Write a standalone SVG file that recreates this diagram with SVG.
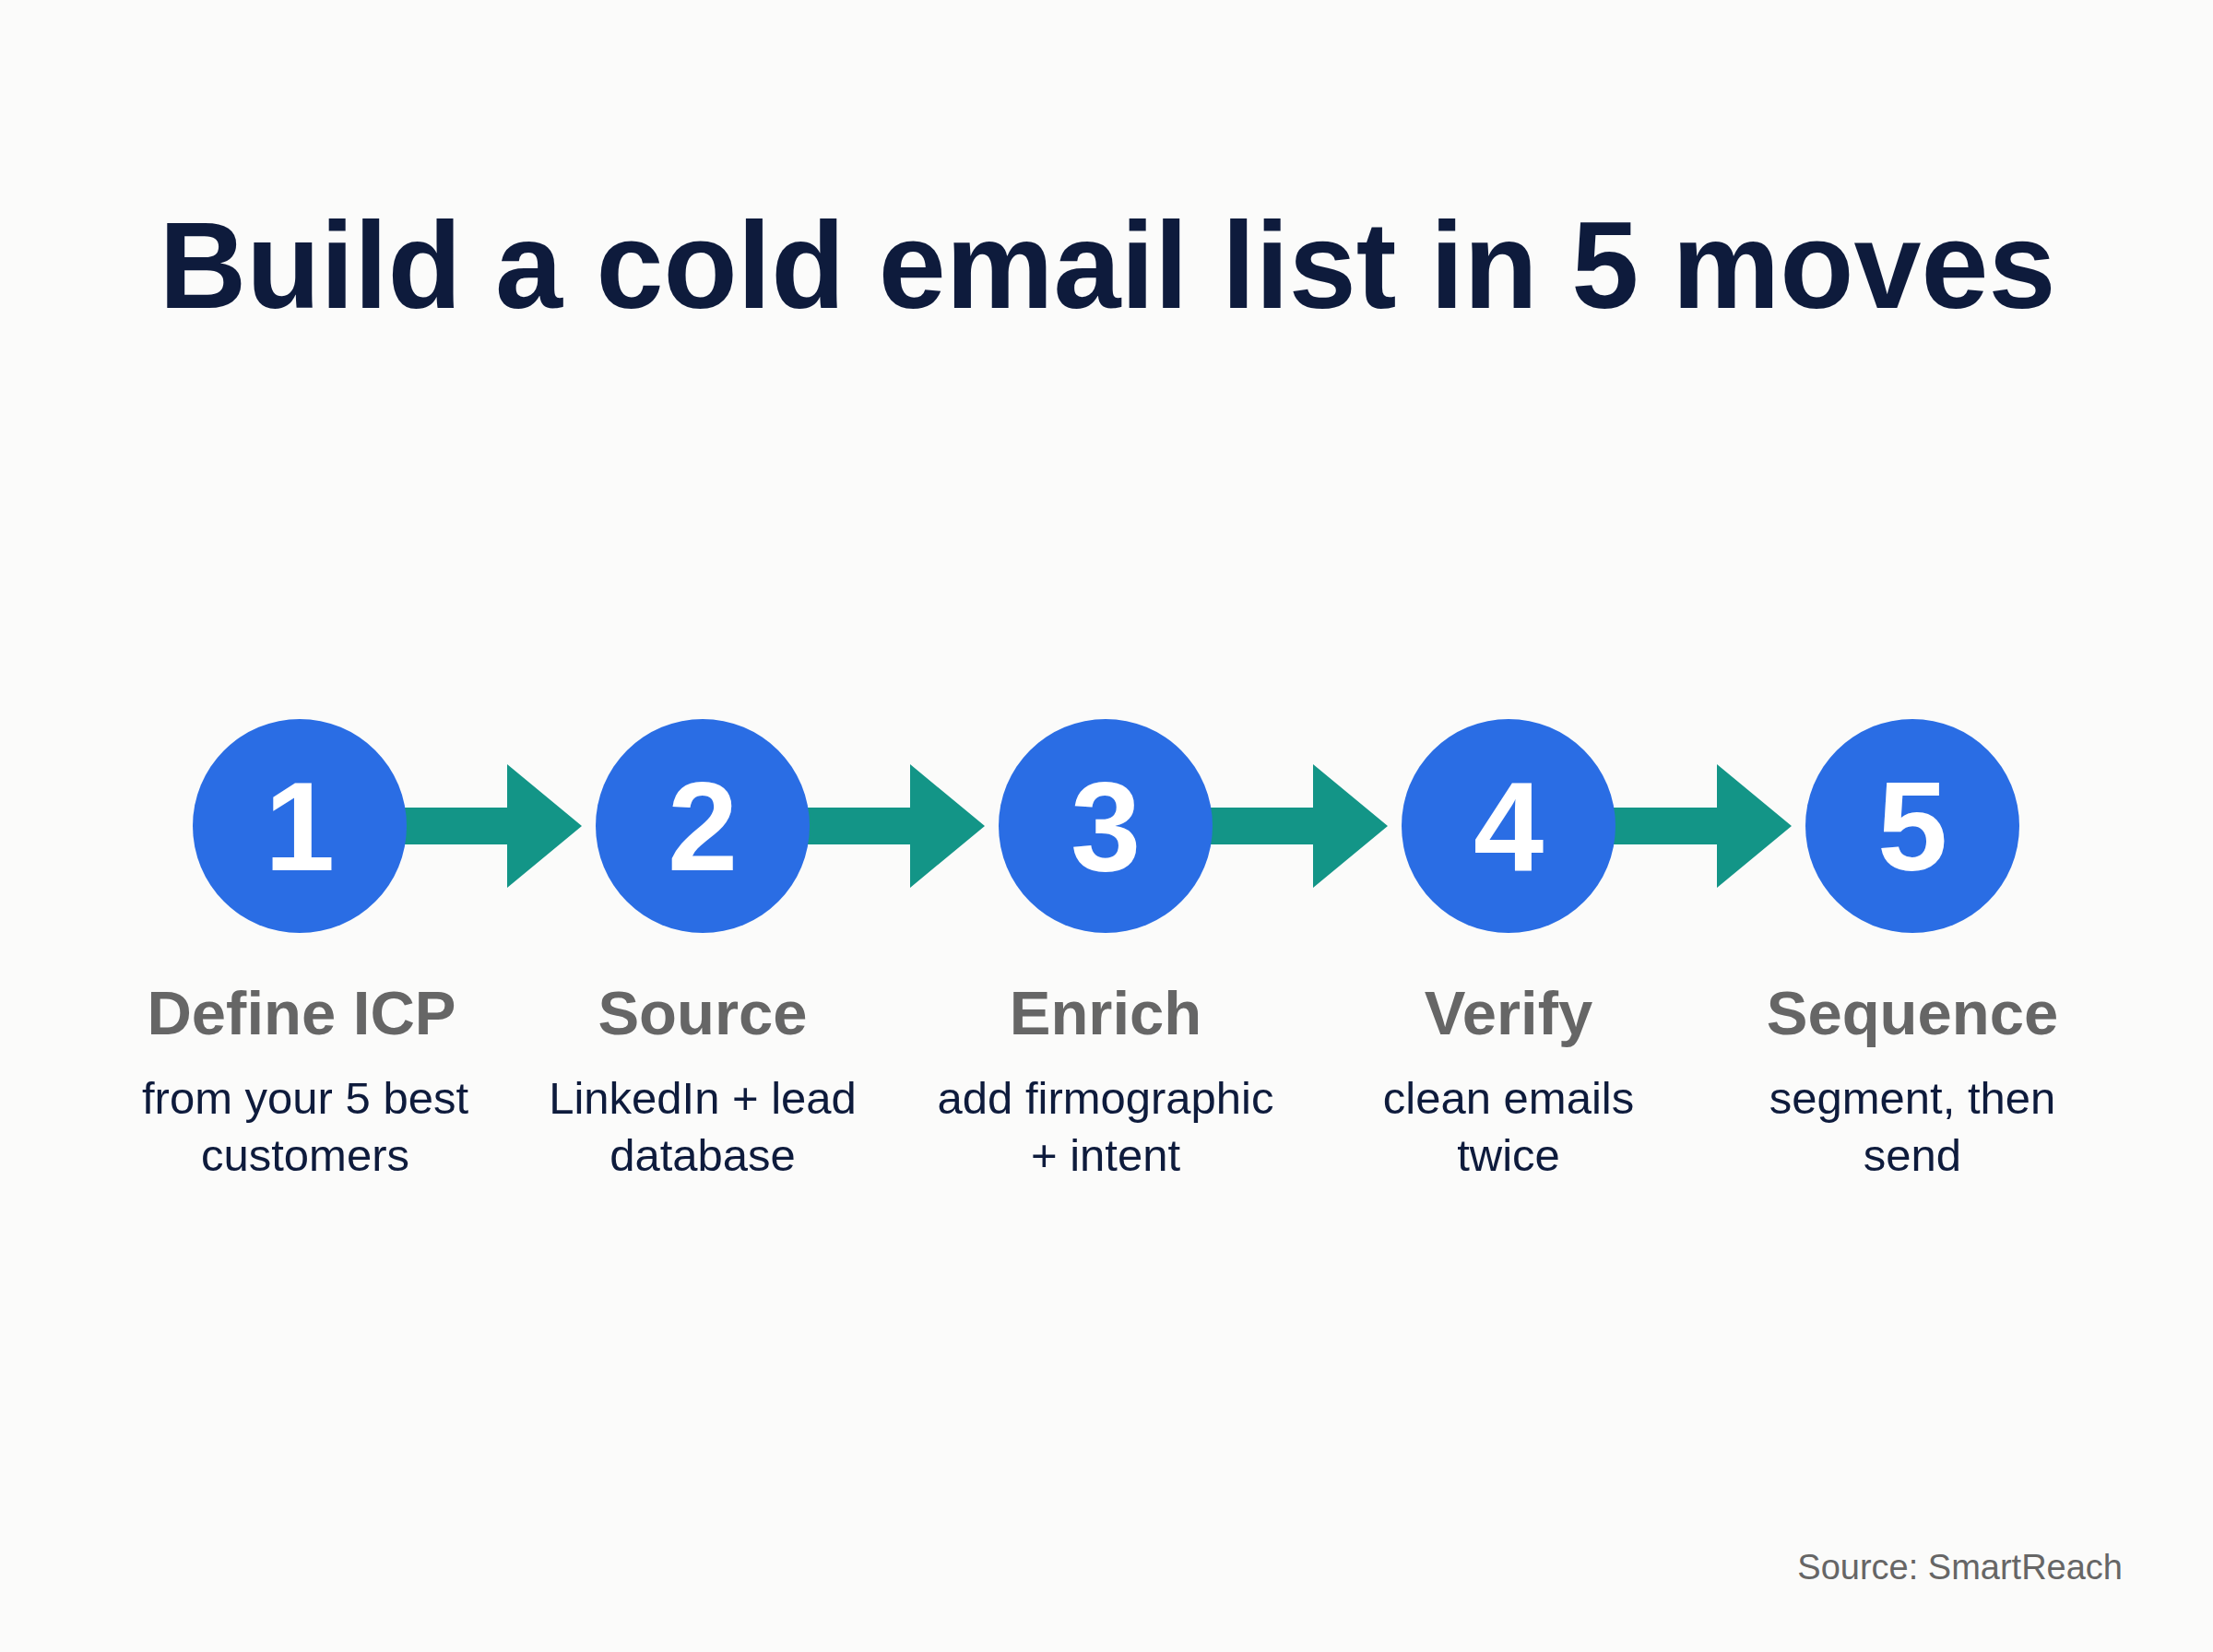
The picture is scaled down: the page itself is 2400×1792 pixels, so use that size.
<svg xmlns="http://www.w3.org/2000/svg" width="2400" height="1792" viewBox="0 0 2400 1792">
<style>
.title{font-family:"Liberation Sans",Arial,sans-serif;font-weight:bold;font-size:134px;fill:#0e1b3c;text-anchor:middle}
.num{font-family:"Liberation Sans",Arial,sans-serif;font-weight:bold;font-size:137px;fill:#ffffff;text-anchor:middle}
.lbl{font-family:"Liberation Sans",Arial,sans-serif;font-weight:bold;font-size:67px;fill:#666666;text-anchor:middle}
.desc{font-family:"Liberation Sans",Arial,sans-serif;font-size:49px;fill:#0e1b3c;text-anchor:middle}
.src{font-family:"Liberation Sans",Arial,sans-serif;font-size:38px;fill:#666666;text-anchor:end}
.circ{fill:#2a6de4}
.arr{fill:#139587}
</style>
<rect width="2400" height="1792" fill="#fbfbfa"/>
<text class="title" x="1201" y="334" textLength="2057" lengthAdjust="spacingAndGlyphs">Build a cold email list in 5 moves</text>
<g id="connectors">
<polygon class="arr" points="438,876 550,876 550,829 631,896 550,963 550,916 438,916"/>
<polygon class="arr" points="875,876 987,876 987,829 1068,896 987,963 987,916 875,916"/>
<polygon class="arr" points="1312,876 1424,876 1424,829 1505,896 1424,963 1424,916 1312,916"/>
<polygon class="arr" points="1749,876 1862,876 1862,829 1943,896 1862,963 1862,916 1749,916"/>
</g>
<g id="step1">
<circle class="circ" cx="325" cy="896" r="116"/>
<text class="num" x="325" y="944">1</text>
<text class="lbl" x="327" y="1122">Define ICP</text>
<text class="desc" x="331" y="1208">from your 5 best</text>
<text class="desc" x="331" y="1270">customers</text>
</g>
<g id="step2">
<circle class="circ" cx="762" cy="896" r="116"/>
<text class="num" x="762" y="944">2</text>
<text class="lbl" x="762" y="1122">Source</text>
<text class="desc" x="762" y="1208">LinkedIn + lead</text>
<text class="desc" x="762" y="1270">database</text>
</g>
<g id="step3">
<circle class="circ" cx="1199" cy="896" r="116"/>
<text class="num" x="1199" y="944">3</text>
<text class="lbl" x="1199" y="1122">Enrich</text>
<text class="desc" x="1199" y="1208">add firmographic</text>
<text class="desc" x="1199" y="1270">+ intent</text>
</g>
<g id="step4">
<circle class="circ" cx="1636" cy="896" r="116"/>
<text class="num" x="1636" y="944">4</text>
<text class="lbl" x="1636" y="1122">Verify</text>
<text class="desc" x="1636" y="1208">clean emails</text>
<text class="desc" x="1636" y="1270">twice</text>
</g>
<g id="step5">
<circle class="circ" cx="2074" cy="896" r="116"/>
<text class="num" x="2074" y="944">5</text>
<text class="lbl" x="2074" y="1122">Sequence</text>
<text class="desc" x="2074" y="1208">segment, then</text>
<text class="desc" x="2074" y="1270">send</text>
</g>
<text class="src" x="2302" y="1713">Source: SmartReach</text>
</svg>
